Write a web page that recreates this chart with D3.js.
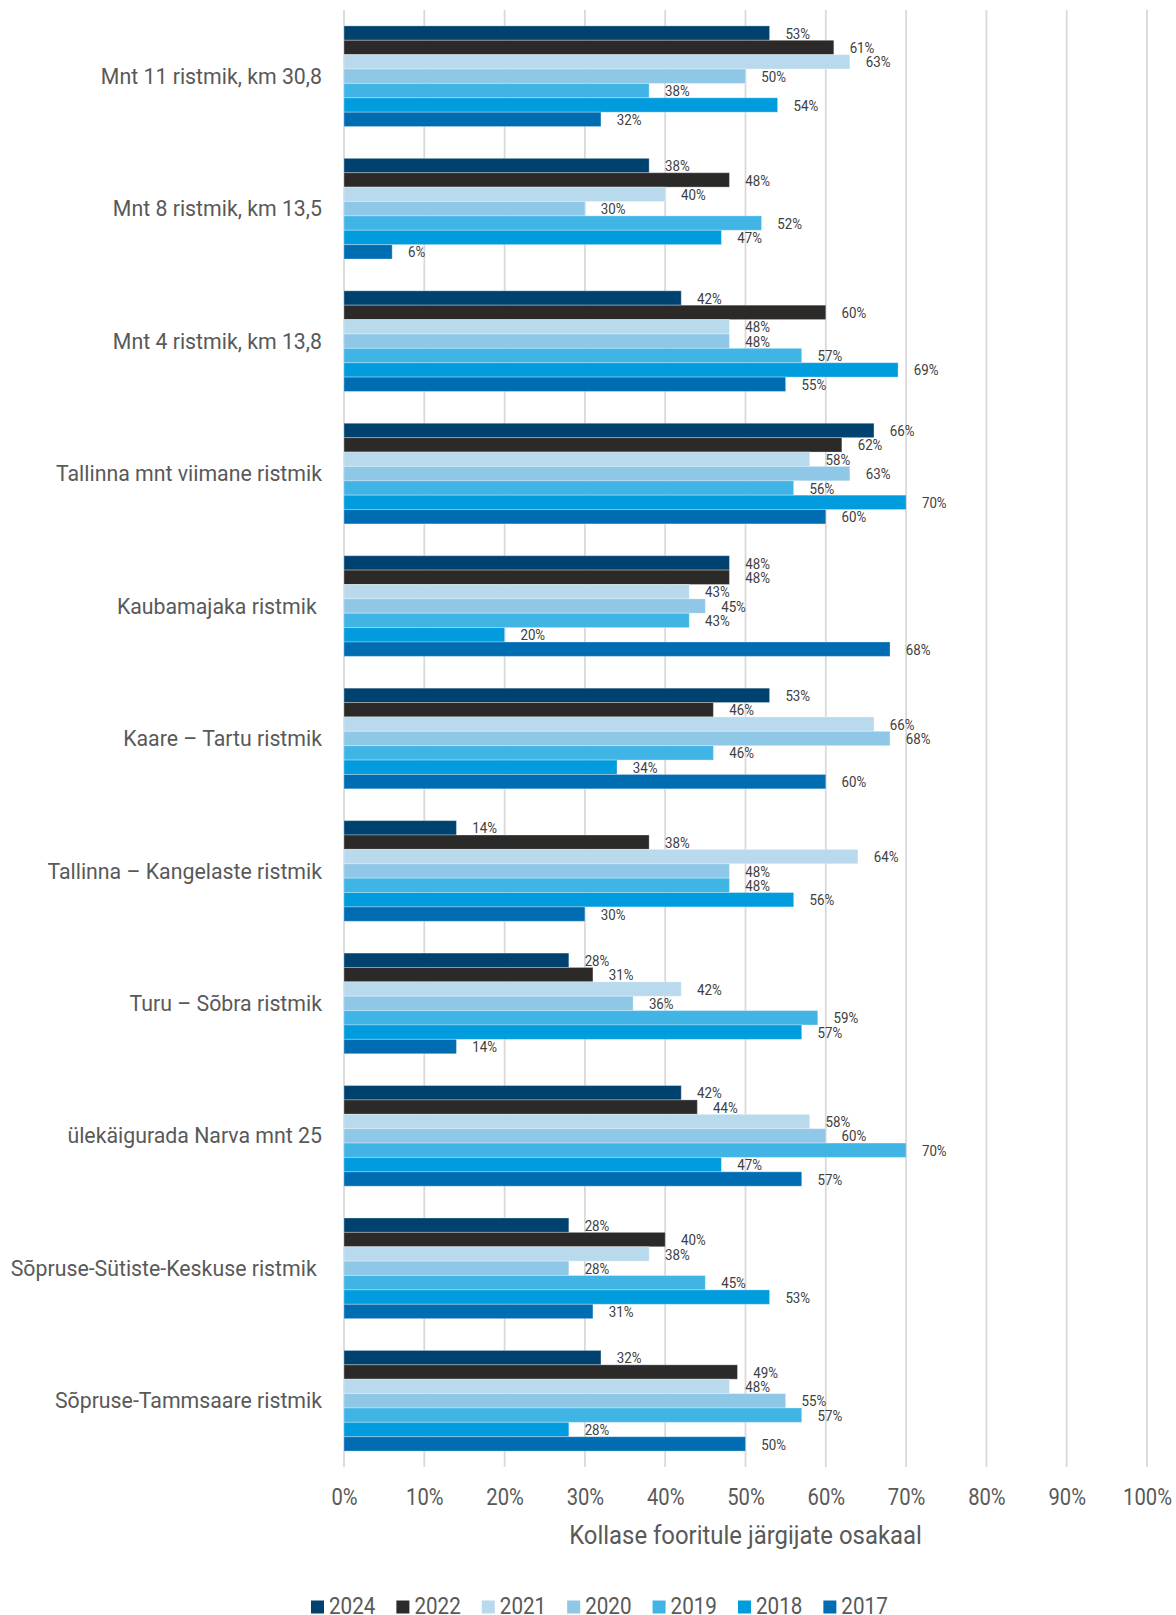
<!DOCTYPE html>
<html>
<head>
<meta charset="utf-8">
<script src="https://cdn.jsdelivr.net/npm/d3@7"></script>
<style>
  html, body { margin: 0; padding: 0; background: #ffffff; }
  svg { display: block; font-family: Roboto, "Noto Sans", sans-serif; }
</style>
</head>
<body>
<svg id="chart" width="1176" height="1615"></svg>
<script>
// Intersections (top to bottom)
const categories = [
  "Mnt 11 ristmik, km 30,8",
  "Mnt 8 ristmik, km 13,5",
  "Mnt 4 ristmik, km 13,8",
  "Tallinna mnt viimane ristmik",
  "Kaubamajaka ristmik ",
  "Kaare – Tartu ristmik",
  "Tallinna – Kangelaste ristmik",
  "Turu – Sõbra ristmik",
  "ülekäigurada Narva mnt 25",
  "Sõpruse-Sütiste-Keskuse ristmik ",
  "Sõpruse-Tammsaare ristmik"
];

// Share of drivers obeying the yellow signal, % per survey year
const years = ["2024", "2022", "2021", "2020", "2019", "2018", "2017"];
const v2024 = [53, 38, 42, 66, 48, 53, 14, 28, 42, 28, 32];
const v2022 = [61, 48, 60, 62, 48, 46, 38, 31, 44, 40, 49];
const v2021 = [63, 40, 48, 58, 43, 66, 64, 42, 58, 38, 48];
const v2020 = [50, 30, 48, 63, 45, 68, 48, 36, 60, 28, 55];
const v2019 = [38, 52, 57, 56, 43, 46, 48, 59, 70, 45, 57];
const v2018 = [54, 47, 69, 70, 20, 34, 56, 57, 47, 53, 28];
const v2017 = [32, 6, 55, 60, 68, 60, 30, 14, 57, 31, 50];
const seriesValues = [v2024, v2022, v2021, v2020, v2019, v2018, v2017];

const tickValues = [0, 10, 20, 30, 40, 50, 60, 70, 80, 90, 100];
const axisTitle = "Kollase fooritule järgijate osakaal";

const colors = ["#00426f", "#2b2a29", "#b9daec", "#8fc7e7", "#41b4e6", "#009cde", "#006db3"];

const NARROW = 0.86; // horizontal squeeze for the condensed look of numbers

const svg = d3.select("#chart");

const x = d3.scaleLinear().domain([0, 100]).range([344, 1147]);
const y = d3.scaleBand().domain(categories).range([10, 1467])
  .paddingInner(0.24).paddingOuter(0.12);
const ySub = d3.scaleBand().domain(years).range([0, y.bandwidth()]);
const color = d3.scaleOrdinal().domain(years).range(colors);

// vertical gridlines
svg.append("g")
  .selectAll("line")
  .data(tickValues)
  .join("line")
  .attr("x1", d => x(d)).attr("x2", d => x(d))
  .attr("y1", 10).attr("y2", 1467)
  .attr("stroke", "#d9d9d9")
  .attr("stroke-width", 1.8);

// grouped bars
const rows = categories.map((c, i) => ({
  category: c,
  values: years.map((yr, j) => ({ year: yr, value: seriesValues[j][i] }))
}));

const groups = svg.append("g")
  .selectAll("g")
  .data(rows)
  .join("g")
  .attr("transform", d => `translate(0,${y(d.category)})`);

groups.selectAll("rect")
  .data(d => d.values)
  .join("rect")
  .attr("x", x(0))
  .attr("y", d => ySub(d.year))
  .attr("width", d => x(d.value) - x(0))
  .attr("height", ySub.bandwidth())
  .attr("fill", d => color(d.year))
  .attr("stroke", "rgba(255,255,255,0.3)")
  .attr("stroke-width", 1);

// value labels
groups.selectAll("text")
  .data(d => d.values)
  .join("text")
  .attr("transform", d => `translate(${x(d.value) + 15.8},${ySub(d.year) + ySub.bandwidth() / 2 + 5.6}) scale(${NARROW},1)`)
  .attr("font-size", 15.5)
  .attr("fill", "#404040")
  .text(d => d.value + "%");

// category labels
svg.append("g")
  .selectAll("text")
  .data(categories)
  .join("text")
  .attr("x", 322)
  .attr("y", d => y(d) + y.bandwidth() / 2 + 7.6)
  .attr("text-anchor", "end")
  .attr("font-size", 21.3)
  .attr("fill", "#595959")
  .style("white-space", "pre")
  .text(d => d);

// x axis
const axis = svg.append("g")
  .attr("transform", "translate(0,1467)")
  .call(d3.axisBottom(x).tickValues(tickValues).tickSize(0).tickFormat(d => d + "%"));
axis.select(".domain").remove();
axis.selectAll("text")
  .attr("y", 38)
  .attr("dy", null)
  .attr("font-size", 23.5)
  .attr("font-family", "Roboto, sans-serif")
  .attr("fill", "#595959")
  .attr("transform", `scale(${NARROW},1)`);

// axis title
svg.append("text")
  .attr("transform", `translate(${(x(0) + x(100)) / 2},1544) scale(0.92,1)`)
  .attr("text-anchor", "middle")
  .attr("font-size", 26)
  .attr("fill", "#595959")
  .text(axisTitle);

// legend
const legend = svg.append("g");
let lx = 311;
years.forEach((yr, i) => {
  legend.append("rect")
    .attr("x", lx).attr("y", 1600.5)
    .attr("width", 13).attr("height", 13)
    .attr("fill", color(yr));
  const t = legend.append("text")
    .attr("transform", `translate(${lx + 18},1613.5) scale(${NARROW},1)`)
    .attr("font-size", 24)
    .attr("fill", "#595959")
    .text(yr);
  const w = t.node().getComputedTextLength() * NARROW;
  lx += 18 + w + 21;
});
</script>
</body>
</html>
